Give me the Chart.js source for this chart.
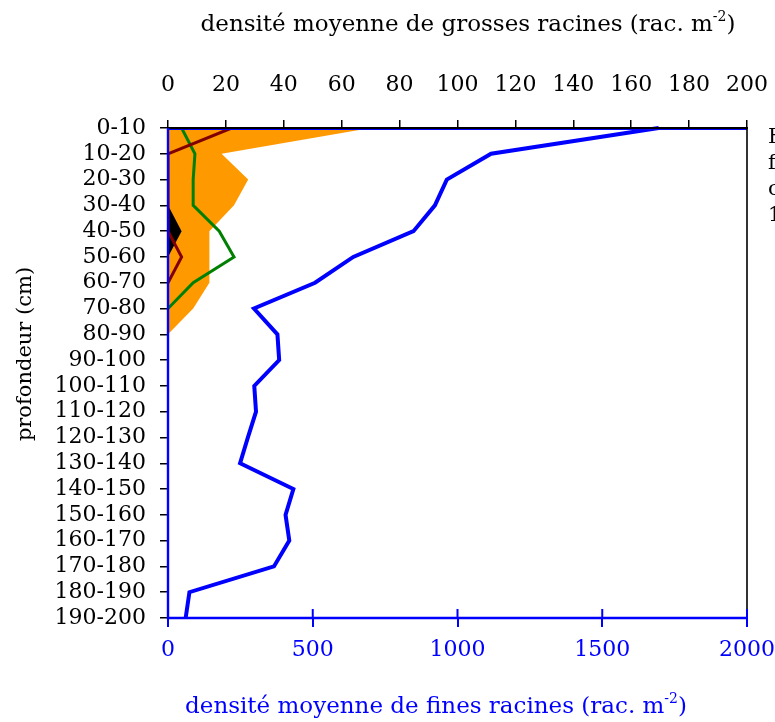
<!DOCTYPE html>
<html>
<head>
<meta charset="utf-8">
<script src="https://cdn.jsdelivr.net/npm/chart.js@4"></script>
<style>
  body { margin: 0; background: #fff; }
  #wrap { width: 775px; height: 722px; position: relative; }
</style>
</head>
<body>
<div id="wrap"><canvas id="rootChart"></canvas></div>
<script>
// profondeur (cm)
var depths = ['0-10', '10-20', '20-30', '30-40', '40-50', '50-60', '60-70', '70-80', '80-90', '90-100',
  '100-110', '110-120', '120-130', '130-140', '140-150', '150-160', '160-170', '170-180', '180-190', '190-200'];

// fines racines (axe du bas, bleu)
var fineRoots = [1695, 1116, 963, 922, 848, 640, 508, 297, 378, 384,
  298, 304, 276, 249, 433, 406, 419, 366, 74, 61];

// grosses racines (axe du haut)
var coarseOrange = [70, 18.5, 27.7, 22.8, 14.3, 14.3, 14.3, 8.7, 0, 0,
  0, 0, 0, 0, 0, 0, 0, 0, 0, 0];
var coarseBlack = [0, 0, 0, 0, 4.7, 0, 0, 0, 0, 0,
  0, 0, 0, 0, 0, 0, 0, 0, 0, 0];
var coarseGreen = [4.7, 9.3, 8.7, 8.7, 17.7, 22.8, 8.7, 0, null, null,
  null, null, null, null, null, null, null, null, null, null];
var coarseRed = [22, 0, 0, 0, 0, 4.7, 0, null, null, null,
  null, null, null, null, null, null, null, null, null, null];

var fineTicks = [0, 500, 1000, 1500, 2000];
var coarseTicks = [0, 20, 40, 60, 80, 100, 120, 140, 160, 180, 200];

var FONT = 'DejaVu Serif';

// texte avec exposant "-2"
function drawSupText(ctx, before, sup, after, cx, y, size) {
  var supSize = Math.round(size * 0.62);
  ctx.font = size + 'px "' + FONT + '"';
  var w1 = ctx.measureText(before).width;
  var w3 = ctx.measureText(after).width;
  ctx.font = supSize + 'px "' + FONT + '"';
  var w2 = ctx.measureText(sup).width;
  var x = cx - (w1 + w2 + w3) / 2;
  ctx.textAlign = 'left';
  ctx.textBaseline = 'alphabetic';
  ctx.font = size + 'px "' + FONT + '"';
  ctx.fillText(before, x, y);
  ctx.font = supSize + 'px "' + FONT + '"';
  ctx.fillText(sup, x + w1, y - size * 0.42);
  ctx.font = size + 'px "' + FONT + '"';
  ctx.fillText(after, x + w1 + w2, y);
}

var framePlugin = {
  id: 'frame',
  afterDatasetsDraw: function (chart) {
    var ctx = chart.ctx, a = chart.chartArea;
    var xs = chart.scales.x;
    ctx.save();
    // haut (noir) avec fine ligne bleue
    ctx.strokeStyle = 'blue';
    ctx.lineWidth = 1.2;
    ctx.beginPath(); ctx.moveTo(a.left, a.top + 1.5); ctx.lineTo(a.right, a.top + 1.5); ctx.stroke();
    ctx.strokeStyle = '#000';
    ctx.lineWidth = 2.2;
    ctx.beginPath(); ctx.moveTo(a.left - 1, a.top); ctx.lineTo(a.right + 1, a.top); ctx.stroke();
    // droite
    ctx.lineWidth = 1.6;
    ctx.beginPath(); ctx.moveTo(a.right, a.top); ctx.lineTo(a.right, a.bottom); ctx.stroke();
    // gauche et bas (bleu)
    ctx.strokeStyle = 'blue';
    ctx.lineWidth = 2.4;
    ctx.beginPath(); ctx.moveTo(a.left, a.top); ctx.lineTo(a.left, a.bottom); ctx.lineTo(a.right, a.bottom); ctx.stroke();
    // graduations du bas vers l'interieur
    ctx.lineWidth = 2;
    fineTicks.forEach(function (v) {
      var px = xs.getPixelForValue(v);
      ctx.beginPath(); ctx.moveTo(px, a.bottom - 9); ctx.lineTo(px, a.bottom); ctx.stroke();
    });
    ctx.restore();
  },
  afterDraw: function (chart) {
    var ctx = chart.ctx, a = chart.chartArea;
    ctx.save();
    ctx.fillStyle = '#000';
    drawSupText(ctx, 'densité moyenne de grosses racines (rac. m', '-2', ')', a.left + 300, 31, 23);
    ctx.fillStyle = 'blue';
    drawSupText(ctx, 'densité moyenne de fines racines (rac. m', '-2', ')', a.left + 268, 713, 23);
    // titre vertical
    ctx.fillStyle = '#000';
    ctx.translate(31, (a.top + a.bottom) / 2 - 19);
    ctx.rotate(-Math.PI / 2);
    ctx.font = '21px "' + FONT + '"';
    ctx.textAlign = 'center';
    ctx.textBaseline = 'alphabetic';
    ctx.fillText('profondeur (cm)', 0, 0);
    ctx.restore();
    // legende coupee a droite
    ctx.save();
    ctx.fillStyle = '#000';
    ctx.font = '21px "' + FONT + '"';
    ctx.textAlign = 'left';
    ctx.textBaseline = 'alphabetic';
    ['F', 'f', 'c', '1'].forEach(function (t, i) {
      ctx.fillText(t, a.right + 21, a.top + 15 + i * 26);
    });
    ctx.restore();
  }
};

function plainLabel(v) { return String(v); }
function fitX(h) {
  return function (s) { s.height = h; s.paddingLeft = 0; s.paddingRight = 0; };
}

new Chart(document.getElementById('rootChart'), {
  type: 'line',
  data: {
    labels: depths,
    datasets: [
      {
        label: 'fines racines',
        data: fineRoots,
        xAxisID: 'x', yAxisID: 'y',
        borderColor: 'blue', borderWidth: 4,
        pointRadius: 0, fill: false, tension: 0, order: 1
      },
      {
        label: 'grosses racines (rouge)',
        data: coarseRed,
        xAxisID: 'x2', yAxisID: 'y',
        borderColor: '#800000', borderWidth: 3,
        pointRadius: 0, fill: false, tension: 0, order: 2, clip: 0
      },
      {
        label: 'grosses racines (vert)',
        data: coarseGreen,
        xAxisID: 'x2', yAxisID: 'y',
        borderColor: '#008000', borderWidth: 3,
        pointRadius: 0, fill: false, tension: 0, order: 3, clip: 0
      },
      {
        label: 'grosses racines (noir)',
        data: coarseBlack,
        xAxisID: 'x2', yAxisID: 'y',
        borderWidth: 0, borderColor: 'rgba(0,0,0,0)',
        backgroundColor: '#000',
        pointRadius: 0, fill: 'origin', tension: 0, order: 4
      },
      {
        label: 'grosses racines (orange)',
        data: coarseOrange,
        xAxisID: 'x2', yAxisID: 'y',
        borderWidth: 0, borderColor: 'rgba(0,0,0,0)',
        backgroundColor: '#FF9900',
        pointRadius: 0, fill: 'origin', tension: 0, order: 5
      }
    ]
  },
  options: {
    indexAxis: 'y',
    responsive: true,
    maintainAspectRatio: false,
    animation: false,
    layout: { padding: { left: 0, right: 28, top: 0, bottom: 0 } },
    plugins: {
      legend: { display: false },
      tooltip: { enabled: false },
      title: { display: false }
    },
    scales: {
      y: {
        type: 'category',
        position: 'left',
        offset: false,
        afterFit: function (s) { s.width = 168; s.paddingTop = 0; s.paddingBottom = 0; },
        border: { display: false },
        grid: { drawOnChartArea: false, drawTicks: true, tickLength: 8, color: '#000', lineWidth: 1.5 },
        ticks: { color: '#000', font: { family: FONT, size: 22 }, padding: 14, autoSkip: false }
      },
      x: {
        type: 'linear',
        position: 'bottom',
        min: 0, max: 2000,
        afterFit: fitX(104),
        afterBuildTicks: function (s) { s.ticks = fineTicks.map(function (v) { return { value: v }; }); },
        border: { display: false },
        grid: { drawOnChartArea: false, drawTicks: true, tickLength: 9, color: 'blue', lineWidth: 2 },
        ticks: { color: 'blue', font: { family: FONT, size: 22 }, padding: 10, maxRotation: 0, callback: plainLabel }
      },
      x2: {
        type: 'linear',
        position: 'top',
        min: 0, max: 200,
        afterFit: fitX(128),
        afterBuildTicks: function (s) { s.ticks = coarseTicks.map(function (v) { return { value: v }; }); },
        border: { display: false },
        grid: { drawOnChartArea: false, drawTicks: true, tickLength: 8, color: '#000', lineWidth: 1.5 },
        ticks: { color: '#000', font: { family: FONT, size: 22 }, padding: 22, maxRotation: 0, callback: plainLabel }
      }
    }
  },
  plugins: [framePlugin]
});
</script>
</body>
</html>
